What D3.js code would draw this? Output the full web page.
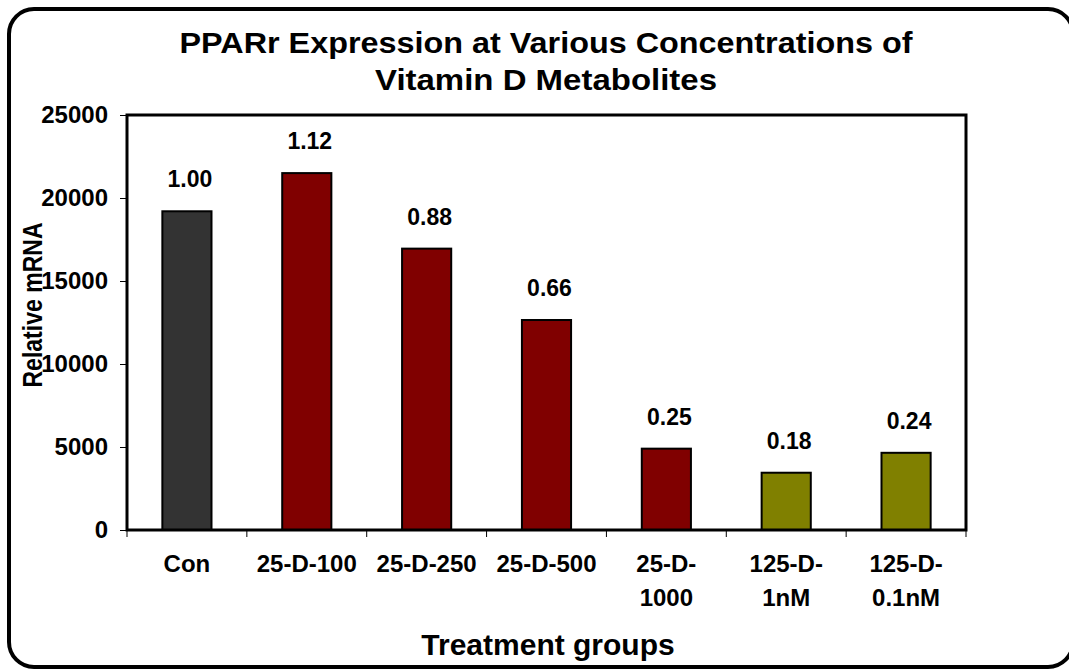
<!DOCTYPE html>
<html>
<head>
<meta charset="utf-8">
<title>PPARr Expression</title>
<style>
  body { margin: 0; background: #fff; }
  text { font-family: "Liberation Sans", Arial, sans-serif; font-weight: bold; fill: #000; }
</style>
</head>
<body>
<script src="https://cdn.jsdelivr.net/npm/d3@7"></script>
<script>
// chart data
var categories = ["Con", "25-D-100", "25-D-250", "25-D-500", "25-D-1000", "125-D-1nM", "125-D-0.1nM"];
var values = [19200, 21500, 16950, 12650, 4900, 3450, 4650];
var foldLabels = ["1.00", "1.12", "0.88", "0.66", "0.25", "0.18", "0.24"];
var groups = ["con", "25D", "25D", "25D", "25D", "125D", "125D"];
var yTicks = [0, 5000, 10000, 15000, 20000, 25000];

var titleLines = ["PPARr Expression at Various Concentrations of", "Vitamin D Metabolites"];

var colors = { "con": "#333333", "25D": "#800000", "125D": "#808000" };

var width = 1069, height = 670;
var plot = { left: 127, right: 966, top: 115, bottom: 530 };

var svg = d3.select("body").append("svg")
    .attr("width", width)
    .attr("height", height);

// rounded outer frame (right edge runs just past the page)
svg.append("rect")
    .attr("x", 9).attr("y", 9)
    .attr("width", 1064).attr("height", 658)
    .attr("rx", 25).attr("ry", 25)
    .style("fill", "#fff")
    .style("stroke", "#000")
    .style("stroke-width", 4);

var x = d3.scaleBand()
    .domain(categories)
    .range([plot.left, plot.right])
    .padding(0);

var y = d3.scaleLinear()
    .domain([0, 25000])
    .range([plot.bottom, plot.top]);

// title, two lines
var titleW = [733, 342];
svg.selectAll("text.title")
    .data(titleLines)
    .enter().append("text")
    .attr("class", "title")
    .attr("x", 546)
    .attr("y", function (d, i) { return i == 0 ? 53 : 90; })
    .attr("text-anchor", "middle")
    .attr("textLength", function (d, i) { return titleW[i]; })
    .attr("lengthAdjust", "spacingAndGlyphs")
    .style("font-size", "30px")
    .text(function (d) { return d; });

// bars
var bw = x.bandwidth() * 0.41;
svg.selectAll("rect.bar")
    .data(values)
    .enter().append("rect")
    .attr("class", "bar")
    .attr("x", function (d, i) { return x(categories[i]) + x.bandwidth() / 2 - bw / 2; })
    .attr("y", function (d) { return y(d); })
    .attr("width", bw)
    .attr("height", function (d) { return y(0) - y(d); })
    .style("fill", function (d, i) { return colors[groups[i]]; })
    .style("stroke", "#000")
    .style("stroke-width", 2);

// value labels
svg.selectAll("text.lbl")
    .data(values)
    .enter().append("text")
    .attr("class", "lbl")
    .attr("x", function (d, i) { return x(categories[i]) + x.bandwidth() / 2 + 3; })
    .attr("y", function (d) { return y(d) - 24; })
    .attr("text-anchor", "middle")
    .style("font-size", "23px")
    .text(function (d, i) { return foldLabels[i]; });

// y axis
var yAxis = d3.axisLeft(y)
    .tickValues(yTicks)
    .tickSize(7)
    .tickPadding(12)
    .tickFormat(d3.format("d"));

var gy = svg.append("g")
    .attr("transform", "translate(" + plot.left + ",0)")
    .call(yAxis);
gy.select(".domain").remove();
gy.selectAll("line").style("stroke", "#000").style("stroke-width", 1);
gy.selectAll("text")
    .style("font-size", "24px")
    .style("font-family", "'Liberation Sans', Arial, sans-serif")
    .style("font-weight", "bold");

// x axis ticks at band edges
var edges = categories.map(function (c) { return x(c); }).concat([plot.right]);
svg.selectAll("line.xt")
    .data(edges)
    .enter().append("line")
    .attr("class", "xt")
    .attr("x1", function (d) { return d; })
    .attr("x2", function (d) { return d; })
    .attr("y1", plot.bottom)
    .attr("y2", plot.bottom + 7)
    .style("stroke", "#000")
    .style("stroke-width", 1);

// category labels, wrapped after the last hyphen when too long
var catText = svg.selectAll("text.cat")
    .data(categories)
    .enter().append("text")
    .attr("class", "cat")
    .attr("text-anchor", "middle")
    .attr("y", 572)
    .style("font-size", "24px");

catText.each(function (d) {
    var t = d3.select(this);
    var cx = x(d) + x.bandwidth() / 2;
    var lines = [d];
    if (d.length > 8) {
        var k = d.lastIndexOf("-");
        lines = [d.slice(0, k + 1), d.slice(k + 1)];
    }
    lines.forEach(function (l, i) {
        t.append("tspan")
            .attr("x", cx)
            .attr("dy", i == 0 ? 0 : 34)
            .text(l);
    });
});

// plot frame
svg.append("rect")
    .attr("x", plot.left).attr("y", plot.top)
    .attr("width", plot.right - plot.left)
    .attr("height", plot.bottom - plot.top)
    .style("fill", "none")
    .style("stroke", "#000")
    .style("stroke-width", 3);

// axis titles
svg.append("text")
    .attr("transform", "translate(42,305) rotate(-90)")
    .attr("text-anchor", "middle")
    .attr("textLength", 165)
    .attr("lengthAdjust", "spacingAndGlyphs")
    .style("font-size", "27px")
    .text("Relative mRNA");

svg.append("text")
    .attr("x", 548).attr("y", 655)
    .attr("text-anchor", "middle")
    .style("font-size", "30px")
    .text("Treatment groups");
</script>
</body>
</html>
